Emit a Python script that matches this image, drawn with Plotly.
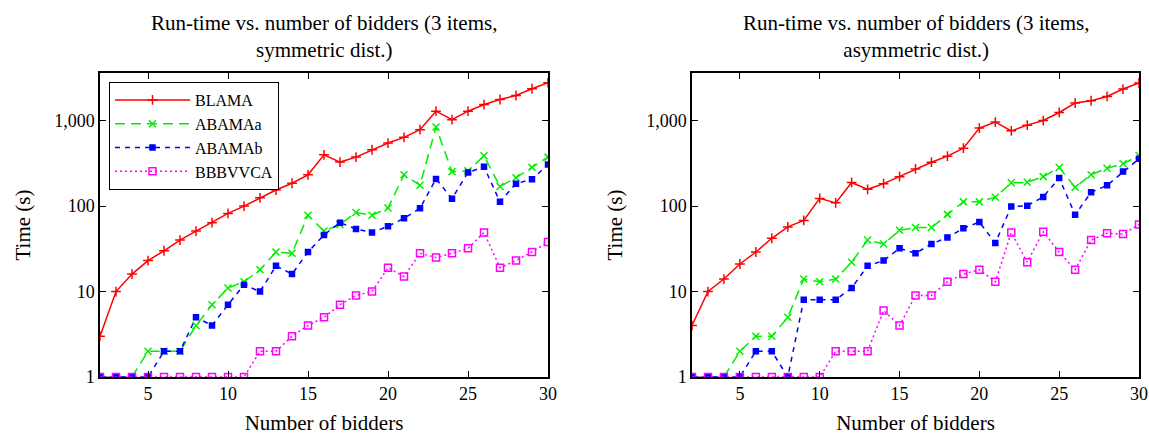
import plotly.graph_objects as go

bidders = list(range(2, 31))

# Symmetric distribution (left)
sym_blama = [3, 10, 16, 23, 30, 40, 51, 64, 82, 100, 125, 154, 185, 232, 398, 327, 374, 456,
             546, 637, 783, 1288, 1024, 1288, 1542, 1766, 1968, 2360, 2775]
sym_abamaa = [1, 1, 1, 2, 2, 2, 4, 7, 11, 13, 18, 29, 28, 78, 51, 61, 84, 78, 95, 232, 175,
              842, 253, 258, 387, 169, 215, 285, 374]
sym_abamab = [1, 1, 1, 1, 2, 2, 5, 4, 7, 12, 10, 20, 16, 29, 46, 64, 54, 49, 58, 72, 94, 208,
              122, 247, 288, 112, 183, 206, 306]
sym_bbbvvca = [1, 1, 1, 1, 1, 1, 1, 1, 1, 1, 2, 2, 3, 4, 5, 7, 9, 10, 19, 15, 28, 25, 28, 32,
               49, 19, 23, 29, 38]

# Asymmetric distribution (right)
asym_blama = [4, 10, 14, 21, 29, 42, 57, 68, 123, 109, 189, 157, 183, 221, 272, 326, 384, 476,
              817, 960, 759, 885, 1002, 1245, 1603, 1707, 1918, 2340, 2754]
asym_abamaa = [1, 1, 1, 2, 3, 3, 5, 14, 13, 14, 22, 40, 36, 52, 56, 56, 80, 112, 112, 127, 187,
               190, 221, 282, 166, 233, 277, 312, 390]
asym_abamab = [1, 1, 1, 1, 2, 2, 1, 8, 8, 8, 11, 20, 23, 32, 28, 36, 43, 55, 65, 37, 99, 101,
               128, 213, 79, 145, 175, 253, 357]
asym_bbbvvca = [1, 1, 1, 1, 1, 1, 1, 1, 1, 2, 2, 2, 6, 4, 9, 9, 13, 16, 18, 13, 49, 22, 50, 29,
                18, 40, 48, 47, 61]

series_names = ["BLAMA", "ABAMAa", "ABAMAb", "BBBVVCA"]
titles = ["Run-time vs. number of bidders (3 items,<br>symmetric dist.)",
          "Run-time vs. number of bidders (3 items,<br>asymmetric dist.)"]
y_tickvals = [1, 10, 100, 1000]
y_ticktext = ["1", "10", "100", "1,000"]
y_minor_ticks = [m * 10 ** d for d in range(4) for m in range(2, 10) if m * 10 ** d < 3700]
x_tickvals = [5, 10, 15, 20, 25, 30]

styles = [
    dict(color="#ff0000", dash="solid", symbol="cross-thin", size=7),
    dict(color="#00ee00", dash="10px,6px", symbol="x-thin", size=7),
    dict(color="#0000ff", dash="5px,5px", symbol="square", size=5),
    dict(color="#ff00ff", dash="2px,3px", symbol="square-open", size=7),
]

FONT = "Liberation Serif, Times New Roman, serif"

W, H = 1149, 435


def px(x):
    return x / W


def py(y):
    return 1 - y / H


fig = go.Figure()
panels = [
    ([sym_blama, sym_abamaa, sym_abamab, sym_bbbvvca], "x", "y"),
    ([asym_blama, asym_abamaa, asym_abamab, asym_bbbvvca], "x2", "y2"),
]
for p, (data, xa, ya) in enumerate(panels):
    for name, vals, st in zip(series_names, data, styles):
        fig.add_trace(go.Scatter(
            x=bidders, y=vals, name=name, mode="lines+markers",
            xaxis=xa, yaxis=ya, showlegend=(p == 0),
            line=dict(color=st["color"], dash=st["dash"], width=1.5),
            marker=dict(symbol=st["symbol"], size=st["size"], color=st["color"],
                        line=dict(color=st["color"], width=1.5)),
            cliponaxis=True,
        ))

y_dom = [py(377), py(73)]
x_doms = [[px(100), px(548)], [px(692), px(1139)]]
Y_RANGE = [0, 3.557]

axis_common = dict(showline=True, linecolor="black", linewidth=1.5, mirror="allticks",
                   ticks="inside", tickcolor="black", ticklen=6, tickwidth=1,
                   showgrid=False, zeroline=False, automargin=False,
                   tickfont=dict(family=FONT, size=18, color="black"))

layout = dict(
    width=W, height=H, margin=dict(l=0, r=0, t=0, b=0, autoexpand=False),
    paper_bgcolor="white", plot_bgcolor="white",
    font=dict(family=FONT, size=19, color="black"),
    legend=dict(x=px(109), y=py(82), xanchor="left", yanchor="top",
                bordercolor="black", borderwidth=1, bgcolor="white",
                font=dict(family=FONT, size=16), itemwidth=75, tracegroupgap=0),
    annotations=[],
)
for i in range(2):
    sfx = "" if i == 0 else "2"
    msfx = "3" if i == 0 else "4"
    layout["xaxis" + sfx] = dict(axis_common, domain=x_doms[i], range=[2, 30],
                                 tickvals=x_tickvals, anchor="y" + sfx,
                                 title=dict(text="Number of bidders", standoff=20,
                                            font=dict(family=FONT, size=21)))
    layout["yaxis" + sfx] = dict(axis_common, domain=y_dom, type="log", range=Y_RANGE,
                                 tickvals=y_tickvals, ticktext=y_ticktext, anchor="x" + sfx,
                                 title=dict(text="Time (s)", standoff=18,
                                            font=dict(family=FONT, size=21)))
    # minor ticks on an overlaid axis
    layout["yaxis" + msfx] = dict(domain=y_dom, type="log", range=Y_RANGE,
                                  overlaying="y" + sfx, anchor="x" + sfx,
                                  tickvals=y_minor_ticks, showticklabels=False,
                                  ticks="inside", ticklen=3, tickcolor="black", tickwidth=1,
                                  mirror="allticks", showline=True, linecolor="black",
                                  linewidth=1.5, showgrid=False, zeroline=False,
                                  automargin=False)
    cx = (x_doms[i][0] + x_doms[i][1]) / 2
    layout["annotations"].append(dict(text=titles[i], x=cx, y=py(37), xref="paper",
                                      yref="paper", xanchor="center", yanchor="middle",
                                      showarrow=False, align="center",
                                      font=dict(family=FONT, size=21)))

fig.update_layout(**layout)
fig.write_html("out.html", config={"displayModeBar": False},
               post_script="document.body.style.margin='0';document.body.style.overflow='hidden';")
